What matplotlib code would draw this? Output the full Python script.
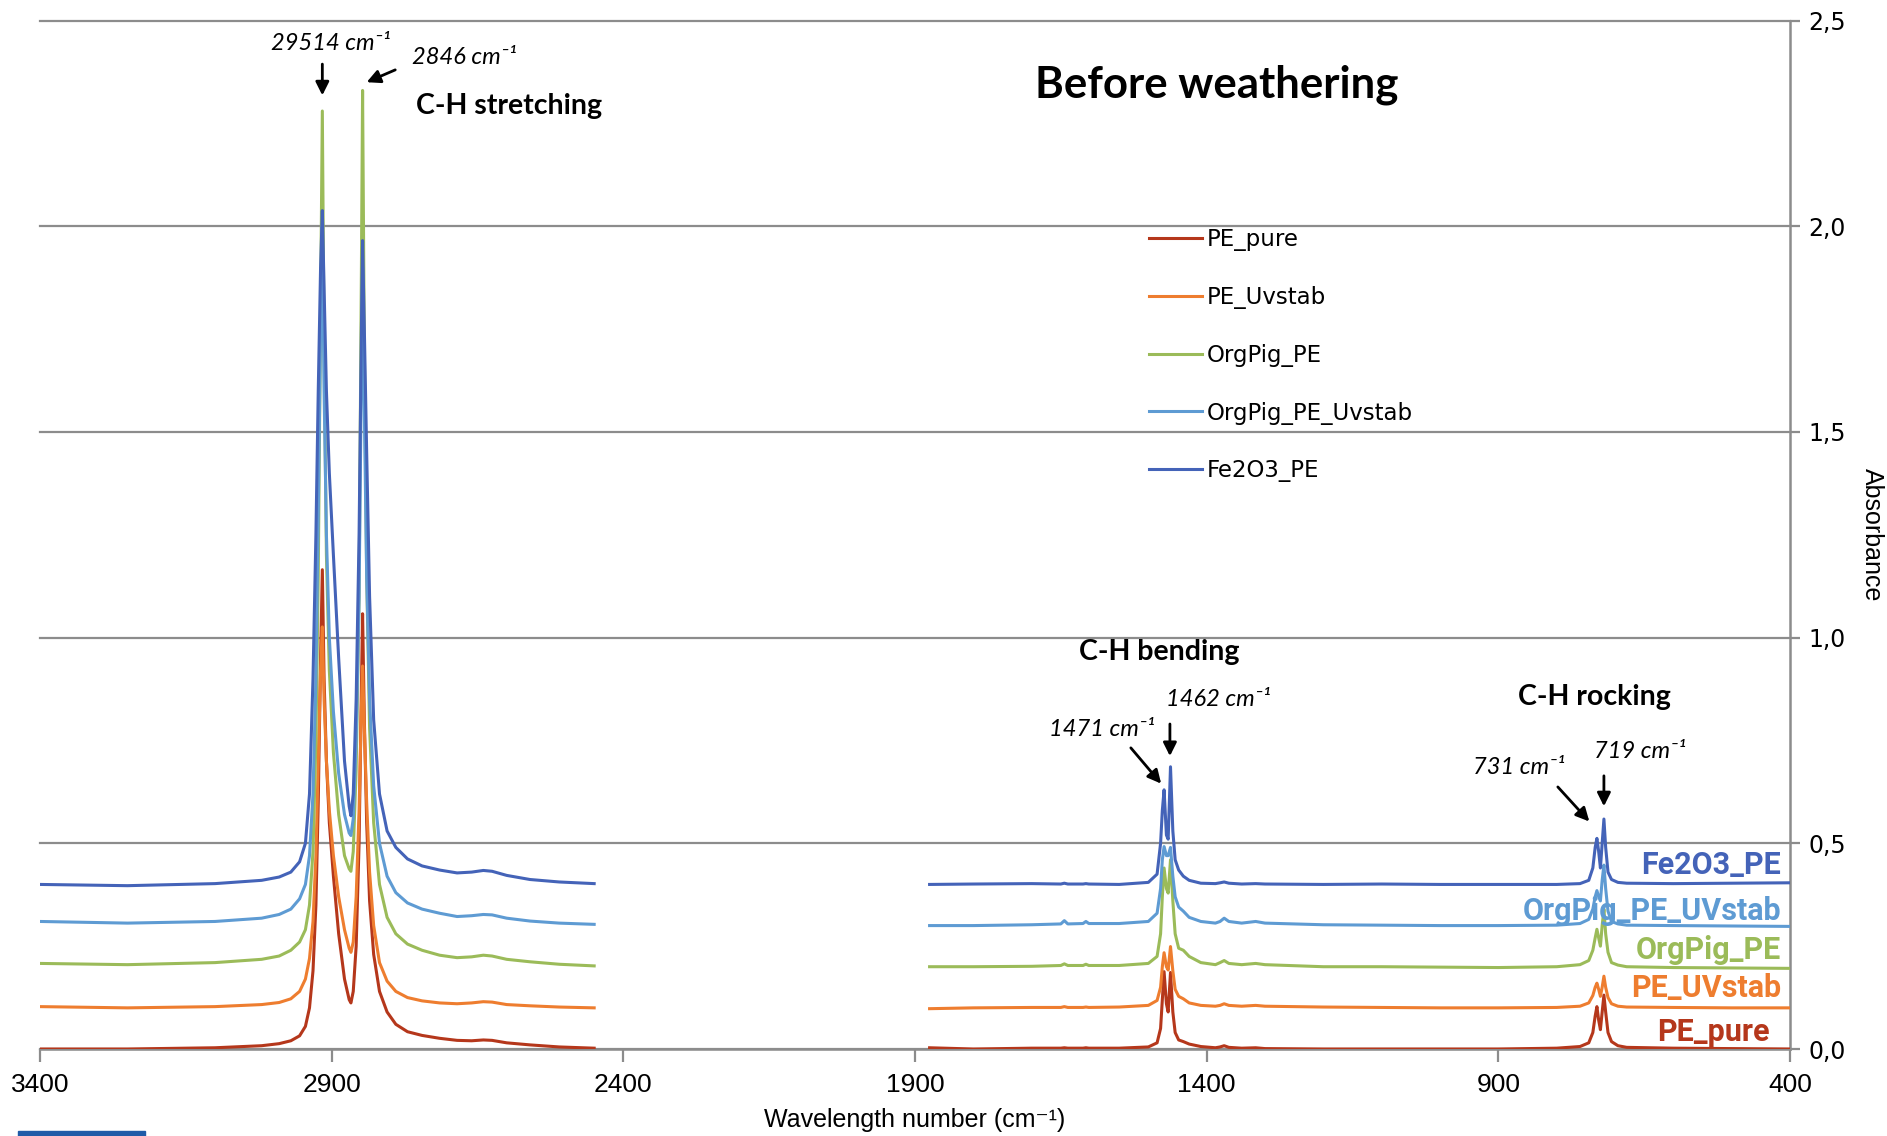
import matplotlib
matplotlib.use("Agg")
import matplotlib.pyplot as plt
from matplotlib.patches import Rectangle

W, H = 1887, 1136

# wavenumbers (cm-1) of the two measured windows
hi_wn = [3400, 3250, 3100, 3020, 2990, 2970, 2955, 2945, 2938, 2932, 2927, 2923, 2919, 2916,
         2913, 2909, 2904, 2897, 2888, 2878, 2870, 2867, 2863, 2858, 2853, 2849, 2847, 2844,
         2840, 2835, 2828, 2818, 2805, 2790, 2770, 2745, 2715, 2685, 2660, 2640, 2625, 2600,
         2560, 2510, 2450]
lo_wn = [1875, 1800, 1700, 1650, 1644, 1638, 1612, 1607, 1602, 1550, 1500, 1485, 1479, 1476,
         1473, 1469, 1466, 1462, 1458, 1454, 1448, 1440, 1430, 1410, 1385, 1377, 1370, 1362,
         1340, 1316, 1300, 1200, 1100, 1000, 900, 800, 760, 745, 738, 734, 731, 728, 725, 722,
         719, 716, 712, 706, 695, 680, 600, 500, 400]

# absorbance, each spectrum shifted by 0.1
pure_hi = [0.0, 0.0, 0.003, 0.008, 0.013, 0.02, 0.032, 0.055, 0.1, 0.19, 0.35, 0.6, 0.95, 1.165,
           0.9, 0.7, 0.55, 0.42, 0.28, 0.17, 0.12, 0.112, 0.14, 0.25, 0.5, 0.88, 1.058, 0.8,
           0.55, 0.36, 0.23, 0.14, 0.09, 0.06, 0.042, 0.033, 0.026, 0.021, 0.02, 0.022, 0.021,
           0.015, 0.01, 0.005, 0.002]
uvstab_hi = [0.103, 0.1, 0.103, 0.108, 0.113, 0.122, 0.14, 0.17, 0.22, 0.31, 0.47, 0.7, 0.92,
             1.026, 0.85, 0.7, 0.58, 0.47, 0.37, 0.29, 0.245, 0.235, 0.26, 0.37, 0.58, 0.83,
             0.931, 0.78, 0.6, 0.43, 0.3, 0.21, 0.165, 0.14, 0.125, 0.117, 0.112, 0.11, 0.112,
             0.115, 0.114, 0.108, 0.105, 0.102, 0.1]
orgpig_hi = [0.208, 0.205, 0.21, 0.218, 0.226, 0.24, 0.26, 0.29, 0.35, 0.48, 0.75, 1.15, 1.8,
             2.28, 1.7, 1.2, 0.92, 0.72, 0.57, 0.47, 0.438, 0.432, 0.48, 0.68, 1.1, 1.9, 2.33,
             1.7, 1.15, 0.78, 0.55, 0.4, 0.32, 0.28, 0.255, 0.24, 0.228, 0.222, 0.224, 0.228,
             0.226, 0.218, 0.212, 0.206, 0.202]
orgpig_uv_hi = [0.31, 0.306, 0.31, 0.318, 0.327, 0.34, 0.365, 0.4, 0.47, 0.62, 0.9, 1.3, 1.75,
                2.0, 1.6, 1.25, 1.0, 0.82, 0.67, 0.57, 0.525, 0.519, 0.56, 0.75, 1.1, 1.65, 1.9,
                1.55, 1.15, 0.85, 0.64, 0.5, 0.42, 0.38, 0.355, 0.34, 0.33, 0.322, 0.324, 0.327,
                0.326, 0.318, 0.311, 0.306, 0.303]
fe2o3_hi = [0.4, 0.397, 0.402, 0.41, 0.418, 0.43, 0.455, 0.5, 0.62, 0.9, 1.25, 1.6, 1.9, 2.038,
            1.85, 1.6, 1.4, 1.2, 0.95, 0.7, 0.59, 0.567, 0.62, 0.85, 1.25, 1.75, 1.965, 1.75,
            1.45, 1.1, 0.8, 0.62, 0.53, 0.49, 0.462, 0.445, 0.435, 0.428, 0.43, 0.434, 0.432,
            0.422, 0.412, 0.406, 0.402]

pure_lo = [0.003, 0.0, 0.002, 0.002, 0.003, 0.002, 0.002, 0.003, 0.002, 0.002, 0.005, 0.015, 0.05,
           0.12, 0.188, 0.11, 0.09, 0.186, 0.09, 0.04, 0.022, 0.018, 0.012, 0.006, 0.003, 0.005,
           0.008, 0.004, 0.002, 0.003, 0.001, 0.0, 0.0, 0.0, 0.0, 0.002, 0.006, 0.015, 0.04, 0.08,
           0.103, 0.07, 0.047, 0.09, 0.131, 0.09, 0.04, 0.018, 0.008, 0.004, 0.002, 0.001, 0.0]
uvstab_lo = [0.098, 0.1, 0.101, 0.101, 0.103, 0.101, 0.101, 0.102, 0.101, 0.102, 0.106, 0.118, 0.15,
             0.2, 0.234, 0.2, 0.192, 0.249, 0.19, 0.145, 0.128, 0.122, 0.112, 0.106, 0.104, 0.106,
             0.11, 0.106, 0.104, 0.106, 0.104, 0.102, 0.101, 0.1, 0.1, 0.101, 0.104, 0.112, 0.13,
             0.15, 0.16, 0.145, 0.128, 0.15, 0.177, 0.15, 0.125, 0.11, 0.104, 0.102, 0.101, 0.1, 0.1]
orgpig_lo = [0.2, 0.2, 0.201, 0.203, 0.207, 0.203, 0.203, 0.206, 0.203, 0.203, 0.208, 0.225, 0.28,
             0.37, 0.44, 0.39, 0.379, 0.46, 0.36, 0.28, 0.245, 0.24, 0.225, 0.21, 0.205, 0.21,
             0.215, 0.208, 0.205, 0.208, 0.205, 0.2, 0.2, 0.199, 0.198, 0.2, 0.205, 0.215, 0.24,
             0.27, 0.291, 0.27, 0.25, 0.3, 0.34, 0.28, 0.235, 0.21, 0.204, 0.2, 0.198, 0.197, 0.196]
orgpig_uv_lo = [0.3, 0.3, 0.302, 0.304, 0.312, 0.304, 0.305, 0.31, 0.305, 0.305, 0.31, 0.33, 0.39,
                0.46, 0.492, 0.47, 0.47, 0.49, 0.42, 0.37, 0.345, 0.335, 0.32, 0.31, 0.306, 0.31,
                0.318, 0.31, 0.306, 0.31, 0.306, 0.302, 0.301, 0.3, 0.3, 0.301, 0.305, 0.315, 0.34,
                0.37, 0.385, 0.37, 0.36, 0.41, 0.447, 0.39, 0.335, 0.31, 0.304, 0.301, 0.3, 0.299, 0.298]
fe2o3_lo = [0.4, 0.401, 0.402, 0.401, 0.403, 0.401, 0.401, 0.402, 0.401, 0.4, 0.405, 0.425, 0.5,
            0.58, 0.63, 0.52, 0.51, 0.686, 0.53, 0.46, 0.435, 0.42, 0.41, 0.403, 0.402, 0.404,
            0.406, 0.403, 0.401, 0.402, 0.401, 0.4, 0.401, 0.4, 0.4, 0.4, 0.402, 0.41, 0.44, 0.49,
            0.512, 0.48, 0.44, 0.5, 0.559, 0.49, 0.43, 0.412, 0.405, 0.403, 0.402, 0.403, 0.404]

names = ["PE_pure", "PE_Uvstab", "OrgPig_PE", "OrgPig_PE_Uvstab", "Fe2O3_PE"]
side_labels = ["PE_pure", "PE_UVstab", "OrgPig_PE", "OrgPig_PE_UVstab", "Fe2O3_PE"]
colors = ["#B5371B", "#EE7D2F", "#9BBB59", "#5E9BD3", "#4463B8"]
hi_series = [pure_hi, uvstab_hi, orgpig_hi, orgpig_uv_hi, fe2o3_hi]
lo_series = [pure_lo, uvstab_lo, orgpig_lo, orgpig_uv_lo, fe2o3_lo]

xticks = [3400, 2900, 2400, 1900, 1400, 900, 400]
yticks = [0.0, 0.5, 1.0, 1.5, 2.0, 2.5]
ytick_labels = ["0,0", "0,5", "1,0", "1,5", "2,0", "2,5"]

GREY = "#8C8C8C"


def px(x, y):
    return x / W, 1 - y / H


fig = plt.figure(figsize=(W / 100, H / 100), dpi=100)
ax = fig.add_axes([40 / W, 87 / H, 1750 / W, 1028.5 / H])

for y in yticks:
    ax.axhline(y, color=GREY, lw=1.6, zorder=1, clip_on=False)

for name, col, yh, yl in zip(names, colors, hi_series, lo_series):
    ax.plot(hi_wn, yh, color=col, lw=2.2, label=name, zorder=3, solid_joinstyle="round")
    ax.plot(lo_wn, yl, color=col, lw=2.2, zorder=3, solid_joinstyle="round")

ax.set_xlim(3400, 400)
ax.set_ylim(0, 2.5)
ax.set_xticks(xticks)
ax.set_xticklabels([str(t) for t in xticks], fontsize=19, family="Liberation Sans")
ax.set_yticks(yticks)
ax.set_yticklabels(ytick_labels, fontsize=17, family="DejaVu Sans")
ax.yaxis.tick_right()
for s in ["left", "top"]:
    ax.spines[s].set_visible(False)
for s in ["bottom", "right"]:
    ax.spines[s].set_color(GREY)
    ax.spines[s].set_linewidth(1.8)
ax.tick_params(axis="x", direction="out", length=9, width=1.6, color=GREY, pad=8)
ax.tick_params(axis="y", direction="out", length=7, width=1.6, color=GREY, pad=6)

# legend
ax.legend(loc="upper left", bbox_to_anchor=px(1149, 228), bbox_transform=fig.transFigure,
          frameon=False, prop={"family": "DejaVu Sans", "size": 16.5}, handlelength=2.3,
          handletextpad=0.22, labelspacing=1.52, borderpad=0, borderaxespad=0)

# series names at the right end
label_y = [1032, 988, 950, 911, 865]
label_x = [1770, 1781, 1781, 1781, 1781]
for lab, col, lx, ly in zip(side_labels, colors, label_x, label_y):
    fig.text(*px(lx, ly), lab, color=col, fontsize=22, fontweight="bold",
             family="Roboto", ha="right", va="center")

fig.text(*px(1217, 85), "Before weathering", fontsize=31.5, fontweight="bold",
         family="Lato", ha="center", va="center")
bold_notes = [("C-H stretching", 416, 106), ("C-H bending", 1079, 652), ("C-H rocking", 1518, 697)]
for txt, x, y in bold_notes:
    fig.text(*px(x, y), txt, fontsize=20.5, fontweight="bold", family="Lato", va="center")

peak_notes = [("29514 cm\u207b\u00b9", 271, 43), ("2846 cm\u207b\u00b9", 412, 57),
              ("1471 cm\u207b\u00b9", 1049, 730), ("1462 cm\u207b\u00b9", 1166, 700),
              ("731 cm\u207b\u00b9", 1473, 767), ("719 cm\u207b\u00b9", 1594, 751)]
for txt, x, y in peak_notes:
    fig.text(*px(x, y), txt, fontsize=17, style="italic", family=["Lato", "DejaVu Sans"],
             va="center")

arrows = [((2916, 2.394), (2916, 2.318)), ((2791, 2.38), (2840, 2.35)),
          ((1530, 0.732), (1478, 0.645)), ((1463, 0.79), (1463, 0.712)),
          ((798, 0.637), (744, 0.553)), ((719, 0.664), (719, 0.59))]
for start, end in arrows:
    ax.annotate("", xy=end, xytext=start,
                arrowprops=dict(arrowstyle="-|>", color="black", lw=2, mutation_scale=20,
                                shrinkA=0, shrinkB=0))

fig.text(*px(915, 1120), "Wavelength number (cm\u207b\u00b9)", fontsize=18,
         family=["Liberation Sans", "DejaVu Sans"], ha="center", va="center")
fig.text(*px(1872, 535), "Absorbance", fontsize=18, family="Liberation Sans",
         rotation=-90, ha="center", va="center")

fig.patches.append(Rectangle(px(18, 1136), 127 / W, 5 / H, transform=fig.transFigure,
                             color="#1F5BA8", zorder=5))

fig.savefig("out.png", dpi=100)
